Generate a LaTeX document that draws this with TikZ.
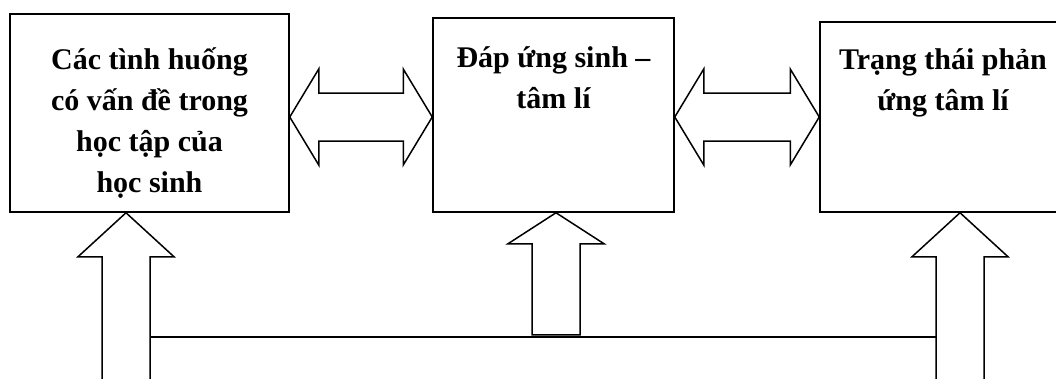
\documentclass[tikz,border=0pt]{standalone}
\usepackage{fontspec}
\setmainfont{Liberation Serif}
\usetikzlibrary{calc}

\tikzset{
  box/.style={draw, line width=1.5pt, inner sep=0pt},
  txt/.style={font=\bfseries\fontsize{30}{41}\selectfont, align=center, anchor=north, inner sep=0pt},
  fat/.style={draw, line width=1.5pt, line join=miter},
}

\begin{document}
\begin{tikzpicture}[x=1pt, y=-1pt]
    \useasboundingbox (0,0) rectangle (1056,378);
    \clip (0,0) rectangle (1056,378);

    % the three boxes
    \node[box, minimum width=279pt, minimum height=198pt] (b1) at (149.5,113) {};
    \node[box, minimum width=241pt, minimum height=194pt] (b2) at (553.5,115) {};
    \node[box, minimum width=246pt, minimum height=190pt] (b3) at (943,117) {};

    \node[txt] (t1) at (149.5,40.3) {\strut Các tình huống\\ có vấn đề trong\\ học tập của\\ học sinh};
    \node[txt] (t2) at (553.5,38.3) {\strut Đáp ứng sinh --\\ tâm lí};
    \node[txt] (t3) at (943,40.3) {\strut Trạng thái phản\\ ứng tâm lí};

    % double arrows between the boxes
    \coordinate (l1) at (b1.east |- 0,117);
    \coordinate (r1) at (b2.west |- 0,117);
    \coordinate (l2) at (b2.east |- 0,117);
    \coordinate (r2) at (b3.west |- 0,117);

    \draw[fat] (l1) -- ++(29,-48) -- ++(0,24) -- ($(r1)+(-29,-24)$) -- ++(0,-24)
        -- (r1) -- ++(-29,48) -- ++(0,-24) -- ($(l1)+(29,24)$) -- ++(0,24) -- cycle;
    \draw[fat] (l2) -- ++(29,-48) -- ++(0,24) -- ($(r2)+(-29,-24)$) -- ++(0,-24)
        -- (r2) -- ++(-29,48) -- ++(0,-24) -- ($(l2)+(29,24)$) -- ++(0,24) -- cycle;

    % up arrows into the boxes
    \coordinate (u1) at (126,0 |- b1.south);
    \coordinate (u2) at (556,0 |- b2.south);
    \coordinate (u3) at (960,0 |- b3.south);

    \draw[fat] ($(u1)+(-24,180)$) -- ++(0,-136) -- ++(-24,0) -- (u1)
        -- ++(48,44) -- ++(-24,0) -- ++(0,136);
    \draw[fat] ($(u2)+(-24,122)$) -- ++(0,-91) -- ++(-24,0) -- (u2)
        -- ++(48,31) -- ++(-24,0) -- ++(0,91) -- cycle;
    \draw[fat] ($(u3)+(-24,180)$) -- ++(0,-136) -- ++(-24,0) -- (u3)
        -- ++(48,44) -- ++(-24,0) -- ++(0,136);

    % line joining the outer arrows
    \draw[line width=1.5pt] ($(u1)+(24,124)$) -- ($(u3)+(-24,124)$);
\end{tikzpicture}
\end{document}
